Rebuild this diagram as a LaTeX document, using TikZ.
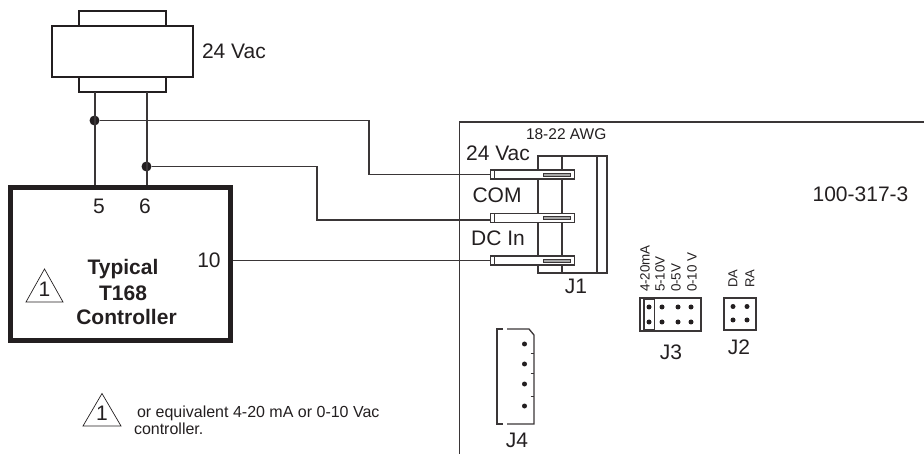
\documentclass[tikz,border=0pt]{standalone}
\usepackage{fontspec}
\setmainfont{Liberation Sans}
\definecolor{ink}{HTML}{231F20}
\definecolor{wire}{HTML}{3A3637}
\newcommand{\fs}[1]{\fontsize{#1}{#1}\selectfont}
\tikzset{
  x=1pt,y=-1pt,
  every node/.style={inner sep=0pt,outer sep=0pt,text=ink},
  wireline/.style={draw=wire,line width=1.3pt},
  thin box/.style={draw=wire,line width=1.3pt},
  heavy box/.style={draw=ink,line width=2pt},
  term/.style={draw=wire,line width=1.3pt,fill=white},
  slot/.style={draw=wire,line width=.9pt,fill=black!35},
  pindot/.style={circle,fill=ink,minimum size=5pt},
  joint/.style={circle,fill=ink,minimum size=10pt},
  big/.style={font=\fs{21}},
  boldlab/.style={font=\fs{21}\bfseries},
  warn/.style={draw=ink,line width=.7pt,fill=white,line join=miter},
}
\begin{document}
\begin{tikzpicture}
\useasboundingbox (0,0) rectangle (924,454);
% transformer
\draw[heavy box] (79,11) rectangle (166,26);
\draw[heavy box] (79,77) rectangle (166,92.5);
\draw[heavy box] (52,26) rectangle (193,77);
\node[big,anchor=west] (v24) at (202,51) {24 Vac};
\coordinate (tl) at (95,92.5);
\coordinate (tr) at (147,92.5);
% controller
\draw[draw=ink,line width=4.8pt] (10.5,187.5) rectangle (230.5,340.5);
\coordinate (c5) at (95,185);
\coordinate (c6) at (147,185);
\coordinate (c10) at (233,260.5);
\node[joint] (ja) at (94.5,120.5) {};
\node[joint] (jb) at (146.5,166.5) {};
\draw[wireline] (tl) -- (c5);
\draw[wireline] (tr) -- (c6);
\node[big] (n5) at (99,206) {5};
\node[big] (n6) at (145,206) {6};
\node[big] (n10) at (209,260) {10};
\node[boldlab] (lab1) at (123,269) {Typical};
\node[boldlab] (lab2) at (123,293) {T168};
\node[boldlab] (lab3) at (126.5,317) {Controller};
\draw[warn] (26,302) -- (44.5,269) -- (63,302) -- cycle;
\node[big] (w1) at (44.5,289) {1};
% board
\draw[wireline] (459.5,454) -- (459.5,122) -- (924,122);
\node[font=\fs{15.5},anchor=west] (awg) at (526,134) {18-22 AWG};
% J1
\draw[thin box] (538,156) rectangle (607,273);
\draw[thin box] (562,156) -- (562,273);
\draw[thin box] (597,156) -- (597,273);
\node[big] (l24) at (498,153) {24 Vac};
\node[big] (lcom) at (497,195) {COM};
\node[big] (ldc) at (498,238) {DC In};
\node[big] (lj1) at (576,286) {J1};
% terminals
\foreach \n/\y in {a/174.5,b/217.7,c/260.5}{
  \node[term,minimum width=84pt,minimum height=9pt,anchor=west] (t\n) at (490.5,\y) {};
  \draw[wire,line width=.9pt] (494,\y-4.5) -- (494,\y+4.5);
  \draw[slot] (543.5,\y-1.5) rectangle (570.5,\y+1.5);
}
\coordinate (tbin) at (490.5,220);
% wires
\draw[wireline] (ja) -- (369,120.5) -- (369,174.5) -- (ta.west);
\draw[wireline] (jb) -- (317,166.5) -- (317,220) -- (tbin);
\draw[wireline] (c10) -- (tc.west);
\node[font=\fs{21}] (pn) at (860.5,194) {100-317-3};
% J3
\draw[thin box] (640,298) rectangle (701,331);
\draw[thin box] (644,299.5) rectangle (654.5,330);
\foreach \x in {649,662,678,691}\foreach \y in {307,322}{\node[pindot] at (\x,\y) {};}
\foreach \x/\t in {645/4-20mA,660/5-10V,676/0-5V,692/0-10 V}{
  \node[font=\fs{13.4},rotate=90,anchor=west] at (\x,292) {\t};
}
\node[big] (lj3) at (671,352) {J3};
% J2
\draw[thin box] (724,298) rectangle (756,330);
\foreach \x in {733,747}\foreach \y in {306.5,320}{\node[pindot] at (\x,\y) {};}
\foreach \x/\t in {733/DA,750/RA}{
  \node[font=\fs{13},rotate=90,anchor=west] at (\x,288) {\t};
}
\node[big] (lj2) at (739,347) {J2};
% J4
\draw[thin box] (503,329) -- (497,329) -- (497,424) -- (503,424);
\draw[thin box] (507,329) -- (529,329) -- (534,335) -- (534,424) -- (507,424);
\foreach \y in {344,364,384,406}{\node[pindot] at (524.5,\y) {};}
\foreach \y in {354,374,396}{\draw[wire,line width=1pt] (530.5,\y) -- (534,\y);}
\node[big] (lj4) at (517,440) {J4};
% note
\draw[warn] (83,426) -- (102,393.5) -- (121,426) -- cycle;
\node[big] (w2) at (102,413) {1};
\node[font=\fs{16},anchor=west] (n1) at (137,413) {or equivalent 4-20 mA or 0-10 Vac};
\node[font=\fs{16},anchor=west] (n2) at (134,429) {controller.};
\end{tikzpicture}
\end{document}
